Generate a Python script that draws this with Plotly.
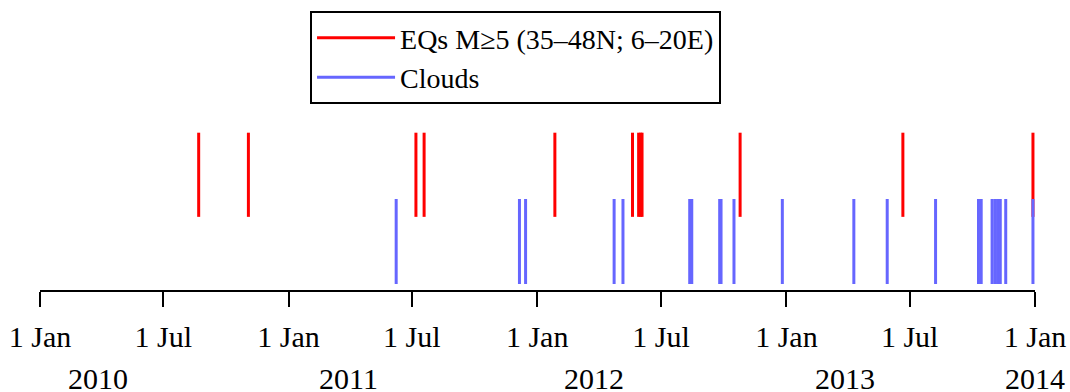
import plotly.graph_objects as go

# ---- data ----
eq_dates = [
    "2010-08-22", "2010-11-03", "2011-07-07", "2011-07-19", "2012-01-27",
    "2012-05-20", "2012-05-29", "2012-06-01", "2012-06-03", "2012-10-25",
    "2013-06-21", "2013-12-29",
]
cloud_dates = [
    "2011-06-08", "2011-12-06", "2011-12-15", "2012-04-23", "2012-05-06",
    "2012-08-12", "2012-08-15", "2012-09-25", "2012-09-27", "2012-10-16",
    "2012-12-26", "2013-04-10", "2013-05-29", "2013-08-08", "2013-10-10",
    "2013-10-14", "2013-10-30", "2013-11-03", "2013-11-07", "2013-11-11",
    "2013-11-19", "2013-12-29",
]
tick_vals = ["2010-01-01", "2010-07-01", "2011-01-01", "2011-07-01", "2012-01-01",
             "2012-07-01", "2013-01-01", "2013-07-01", "2014-01-01"]
tick_text = ["1 Jan", "1 Jul", "1 Jan", "1 Jul", "1 Jan", "1 Jul", "1 Jan", "1 Jul", "1 Jan"]
year_labels = ["2010", "2011", "2012", "2013", "2014"]
year_pos = ["2010-03-27", "2011-03-30", "2012-03-25", "2013-03-28", "2014-01-01"]

EQ_LEVEL = (0.79, 1.78)
CLOUD_LEVEL = (0.0, 1.0)


def segs(dates, lo, hi):
    xs, ys = [], []
    for d in dates:
        xs += [d, d, None]
        ys += [lo, hi, None]
    return xs, ys


FONT = "Liberation Serif"

fig = go.Figure()
ex, ey = segs(eq_dates, *EQ_LEVEL)
fig.add_trace(go.Scatter(x=ex, y=ey, mode="lines", name="EQs M\u22655 (35\u201348N; 6\u201320E)",
                         line=dict(color="#ff0000", width=3), hoverinfo="skip"))
cx, cy = segs(cloud_dates, *CLOUD_LEVEL)
fig.add_trace(go.Scatter(x=cx, y=cy, mode="lines", name="Clouds",
                         line=dict(color="#6666ff", width=3), hoverinfo="skip"))

for lab, pos in zip(year_labels, year_pos):
    fig.add_annotation(x=pos, y=-0.50, xref="x", yref="paper", text=lab,
                       showarrow=False, xanchor="center", yanchor="middle",
                       font=dict(family=FONT, size=30, color="black"))

fig.update_layout(
    width=1070, height=392,
    margin=dict(l=40, r=35, t=114, b=102, autoexpand=False),
    paper_bgcolor="white", plot_bgcolor="white",
    font=dict(family=FONT, color="black"),
    showlegend=True,
    legend=dict(x=0.2714, y=1.585, xanchor="left", yanchor="top",
                bordercolor="black", borderwidth=2, bgcolor="white",
                font=dict(family=FONT, size=28, color="black"),
                itemwidth=78, tracegroupgap=0),
    xaxis=dict(type="date", range=["2010-01-01", "2014-01-01"], automargin=False,
               showline=True, linecolor="black", linewidth=2,
               ticks="outside", ticklen=15, tickwidth=2, tickcolor="black",
               tickmode="array", tickvals=tick_vals, ticktext=tick_text,
               tickfont=dict(family=FONT, size=30, color="black"),
               showgrid=False, zeroline=False, ticklabelstandoff=4),
    yaxis=dict(range=[-0.0706, 2.0], visible=False, showgrid=False, zeroline=False),
)

fig.write_html("out.html", config={"displayModeBar": False},
               post_script="document.body.style.margin='0';document.body.style.overflow='hidden';")
